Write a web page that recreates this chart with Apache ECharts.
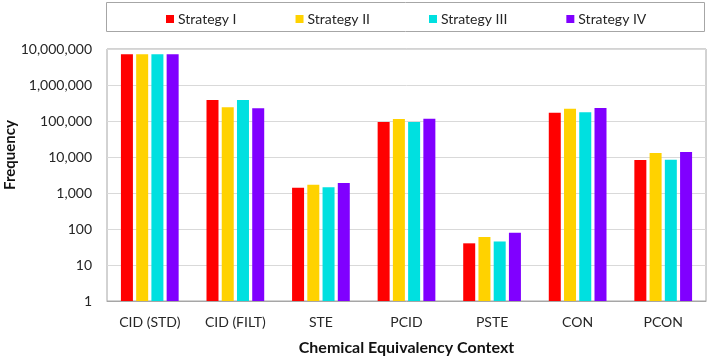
<!DOCTYPE html>
<html>
<head>
<meta charset="utf-8">
<script src="https://cdn.jsdelivr.net/npm/echarts@6/dist/echarts.min.js"></script>
<style>
  html, body { margin: 0; padding: 0; background: #fff; }
  #chart { width: 708px; height: 357px; }
</style>
</head>
<body>
<div id="chart"></div>
<script>
  const contexts = ['CID (STD)', 'CID (FILT)', 'STE', 'PCID', 'PSTE', 'CON', 'PCON'];
  const strategyI   = [7200000, 385000, 1400, 94000, 40, 170000, 8300];
  const strategyII  = [7200000, 240000, 1700, 114000, 60, 220000, 13000];
  const strategyIII = [7200000, 385000, 1450, 94000, 45, 175000, 8400];
  const strategyIV  = [7200000, 225000, 1900, 116000, 79, 230000, 13800];
  const seriesNames = ['Strategy I', 'Strategy II', 'Strategy III', 'Strategy IV'];
  const colors = ['#ff0000', '#ffd200', '#00e0e0', '#8000ff'];

  let chart = echarts.init(document.getElementById('chart'));
  const font = 'Lato, Open Sans, sans-serif';

  let values = [strategyI, strategyII, strategyIII, strategyIV];
  let series = values.map(function (d, i) {
    return {
      name: seriesNames[i],
      type: 'bar',
      data: d,
      barWidth: 12,
      barGap: '27%',
      itemStyle: { color: colors[i] }
    };
  });

  let option = {
    animation: false,
    textStyle: { fontFamily: font },
    graphic: [{
      type: 'rect',
      shape: { x: 106.5, y: 2.5, width: 598, height: 29 },
      style: { fill: 'none', stroke: '#a6a6a6', lineWidth: 1 }
    }, {
      // y axis title sits a bit above the plot middle, as in the source
      type: 'text',
      x: 10,
      y: 155,
      rotation: Math.PI / 2,
      style: {
        text: 'Frequency',
        font: 'bold 15px Lato, Open Sans, sans-serif',
        fill: '#111',
        align: 'center',
        verticalAlign: 'middle'
      }
    }],
    legend: {
      top: 7,
      left: 161,
      itemWidth: 8,
      itemHeight: 8,
      itemGap: 59,
      icon: 'rect',
      data: seriesNames,
      textStyle: { fontSize: 14, color: '#262626', fontFamily: font, padding: [0, 0, 0, -1] }
    },
    grid: {
      left: 107,
      right: 2,
      top: 49,
      bottom: 56,
      outerBoundsMode: 'none',
      show: true,
      borderColor: '#a6a6a6',
      borderWidth: 1
    },
    xAxis: {
      type: 'category',
      data: contexts,
      name: 'Chemical Equivalency Context',
      nameLocation: 'middle',
      nameGap: 39,
      nameTextStyle: { fontSize: 16, fontWeight: 'bold', color: '#111', fontFamily: font },
      axisTick: { show: false },
      axisLine: { lineStyle: { color: '#a6a6a6' } },
      axisLabel: { fontSize: 14, color: '#262626', margin: 14 }
    },
    yAxis: {
      type: 'log',
      logBase: 10,
      min: 1,
      max: 10000000,
      axisLine: { show: false },
      axisTick: { show: false },
      splitLine: { lineStyle: { color: '#d9d9d9' } },
      axisLabel: {
        fontSize: 14,
        color: '#262626',
        margin: 15,
        formatter: function (v) { return Math.round(v).toLocaleString('en-US'); }
      }
    },
    series: series
  };

  chart.setOption(option);
</script>
</body>
</html>
